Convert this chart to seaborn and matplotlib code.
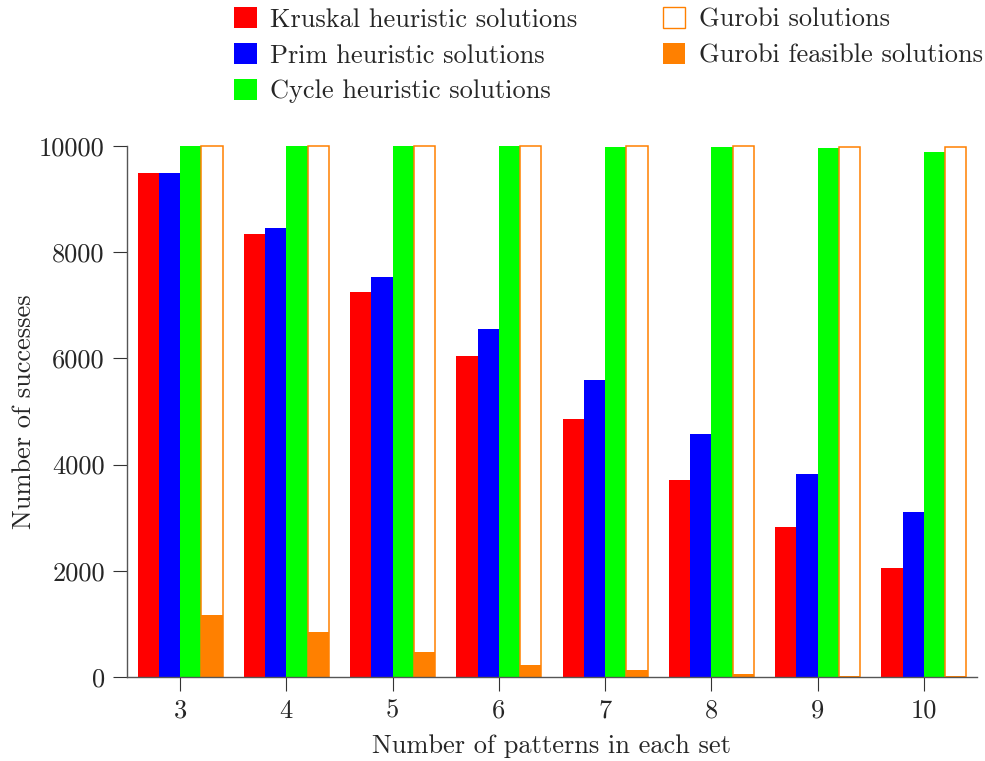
import os
import matplotlib
matplotlib.use("Agg")
import matplotlib.pyplot as plt
from matplotlib import font_manager
from matplotlib.patches import Patch
import seaborn as sns
import pandas as pd

# Number of patterns per set (x categories)
patterns = ["3", "4", "5", "6", "7", "8", "9", "10"]

# Successes out of 10000 runs
kruskal = [9490, 8350, 7255, 6045, 4860, 3710, 2820, 2055]
prim = [9490, 8455, 7540, 6555, 5590, 4580, 3815, 3100]
cycle = [10000, 10000, 10000, 9995, 9990, 9975, 9955, 9885]
gurobi = [10000, 10000, 10000, 10000, 10000, 9995, 9990, 9985]
gurobi_feasible = [1170, 853, 476, 232, 130, 50, 20, 10]

series_names = [
    "Kruskal heuristic solutions",
    "Prim heuristic solutions",
    "Cycle heuristic solutions",
    "Gurobi solutions",
]
colors = ["#ff0000", "#0000ff", "#00ff00", "#ff8000"]

sns.set_theme(style="white")

# Computer Modern shipped with matplotlib
cm_path = os.path.join(matplotlib.get_data_path(), "fonts", "ttf", "cmr10.ttf")
if os.path.exists(cm_path):
    font_manager.fontManager.addfont(cm_path)
    cm_name = font_manager.FontProperties(fname=cm_path).get_name()
else:
    cm_name = "DejaVu Serif"
plt.rcParams["font.family"] = [cm_name, "DejaVu Serif"]
plt.rcParams["mathtext.fontset"] = "cm"
plt.rcParams["axes.formatter.use_mathtext"] = True

FS = 19

rows = []
for name, vals in zip(series_names, [kruskal, prim, cycle, gurobi]):
    for p, v in zip(patterns, vals):
        rows.append({"patterns": p, "successes": v, "series": name})
df = pd.DataFrame(rows)

feas_df = pd.DataFrame({
    "patterns": patterns,
    "successes": gurobi_feasible,
    "series": ["Gurobi solutions"] * len(patterns),
})

fig = plt.figure(figsize=(9.85, 7.61), dpi=100)
ax = fig.add_axes([127 / 985, 1 - 677 / 761, 850 / 985, 531 / 761])

palette = dict(zip(series_names, colors))
sns.barplot(data=df, x="patterns", y="successes", hue="series",
            hue_order=series_names, palette=palette, order=patterns,
            width=0.8, dodge=True, saturation=1, linewidth=0,
            errorbar=None, legend=False, ax=ax)

# Gurobi solutions drawn as hollow orange outlines
n = len(patterns)
gurobi_bars = ax.patches[3 * n:4 * n]
for b in gurobi_bars:
    b.set_facecolor("white")
    b.set_edgecolor("#ff8000")
    b.set_linewidth(1.1)
    b.set_clip_on(False)

# Feasible solutions filled in the same slot as the Gurobi outlines
sns.barplot(data=feas_df, x="patterns", y="successes", hue="series",
            hue_order=series_names, palette=palette, order=patterns,
            width=0.8, dodge=True, saturation=1, linewidth=0,
            errorbar=None, legend=False, ax=ax)

ax.set_xlim(-0.5, n - 0.5)
ax.set_ylim(0, 10000)
ax.set_yticks([0, 2000, 4000, 6000, 8000, 10000])
ax.set_yticklabels(["0", "2000", "4000", "6000", "8000", "10000"])

for s in ["top", "right"]:
    ax.spines[s].set_visible(False)
for s in ["left", "bottom"]:
    ax.spines[s].set_color("#555555")
    ax.spines[s].set_linewidth(1.0)

ax.tick_params(axis="both", which="major", direction="out", length=10,
               width=0.8, color="#333333", labelsize=FS, pad=6,
               left=True, bottom=True)
ax.set_xlabel("Number of patterns in each set", fontsize=FS, labelpad=8)
ax.set_ylabel("Number of successes", fontsize=FS, labelpad=2)

handles = [
    Patch(facecolor="#ff0000", edgecolor="none"),
    Patch(facecolor="#0000ff", edgecolor="none"),
    Patch(facecolor="#00ff00", edgecolor="none"),
    Patch(facecolor="white", edgecolor="#ff8000", linewidth=1.0),
    Patch(facecolor="#ff8000", edgecolor="none"),
]
labels = [
    "Kruskal heuristic solutions",
    "Prim heuristic solutions",
    "Cycle heuristic solutions",
    "Gurobi solutions",
    "Gurobi feasible solutions",
]
fig.legend(handles, labels, ncol=2, loc="upper left",
           bbox_to_anchor=(229 / 985, 1 - 2 / 761), frameon=False,
           fontsize=FS, handlelength=0.85, handleheight=0.85,
           handletextpad=0.5, columnspacing=3.25, labelspacing=0.42,
           borderaxespad=0.0, borderpad=0.2)

fig.savefig("out.png", dpi=100)
